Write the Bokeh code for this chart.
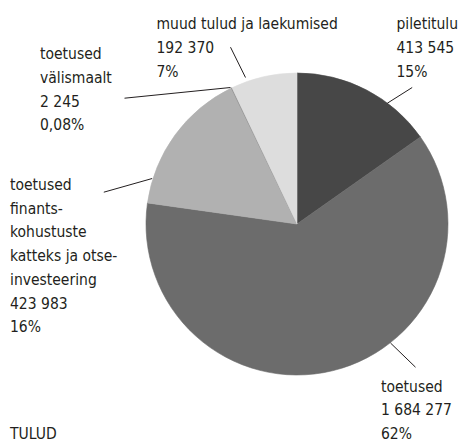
import numpy as np
from bokeh.plotting import figure
from bokeh.models import Range1d
from bokeh.embed import file_html
from bokeh.resources import INLINE
from bokeh.core.properties import value

# ---- data ----
slice_names = [
    ["piletitulu"],
    ["toetused"],
    ["toetused", "finants-", "kohustuste", "katteks ja otse-", "investeering"],
    ["toetused", "välismaalt"],
    ["muud tulud ja laekumised"],
]
slice_values = [413545, 1684277, 423983, 2245, 192370]
title_text = "TULUD"

# ---- style / layout ----
slice_colors = ["#474747", "#6c6c6c", "#b1b1b1", "#8a8a8a", "#dddddd"]
FONT = value("'DejaVu Sans Condensed', Roboto, sans-serif")
FSIZE = "15.5px"
TCOLOR = "#231f20"
LINE_STEP = 23.7
TEXT_DY = -4.5  # renderer baseline correction
PAGE_W, PAGE_H = 466, 443
pie_cx, pie_cy, pie_r = 296.5, 223.5, 151
# label anchors in page pixels: (x, first baseline)
label_pos = [(396.0, 28.3), (380.5, 390.7), (9.5, 189.0), (39.5, 58.3), (156.0, 28.3)]
# leader lines in page pixels: (x0, y0, x1, y1)
leaders = [
    (411.7, 87.0, 386.7, 102.8),
    (415.0, 366.7, 390.0, 342.5),
    (103.3, 191.7, 151.7, 178.0),
    (124.0, 97.7, 230.0, 87.0),
    (230.0, 46.7, 245.0, 77.0),
]
title_pos = (9.5, 438.3)


def Y(py):
    return PAGE_H - py


def fmt_num(v):
    return f"{v:,}".replace(",", " ")


def fmt_pct(v, total):
    pc = v / total * 100
    if pc < 1:
        return f"{pc:.2f}".replace(".", ",") + "%"
    return f"{int(round(pc))}%"


p = figure(width=PAGE_W, height=PAGE_H, x_range=Range1d(0, PAGE_W), y_range=Range1d(0, PAGE_H),
           output_backend="svg", toolbar_location=None,
           x_axis_type=None, y_axis_type=None, min_border=0)
p.outline_line_color = None
p.background_fill_color = "white"

vals = np.array(slice_values, dtype=float)
total = vals.sum()
cum = np.concatenate([[0.0], np.cumsum(vals / total)])
start = np.pi / 2 - 2 * np.pi * cum[:-1]
end = np.pi / 2 - 2 * np.pi * cum[1:]

p.wedge(x=[pie_cx] * len(vals), y=[Y(pie_cy)] * len(vals), radius=pie_r,
        start_angle=list(start), end_angle=list(end), direction="clock",
        fill_color=slice_colors, line_color=slice_colors, line_width=0.6)

# leader lines
p.segment(x0=[l[0] for l in leaders], y0=[Y(l[1]) for l in leaders],
          x1=[l[2] for l in leaders], y1=[Y(l[3]) for l in leaders],
          line_color="#231f20", line_width=1)

xs, ys, ts = [], [], []
for i, (nm, v) in enumerate(zip(slice_names, slice_values)):
    lines = list(nm) + [fmt_num(v), fmt_pct(v, total)]
    x0, b0 = label_pos[i]
    for j, t in enumerate(lines):
        xs.append(x0)
        ys.append(Y(b0 + j * LINE_STEP + TEXT_DY))
        ts.append(t)

p.text(x=xs, y=ys, text=ts, text_font=FONT, text_font_size=FSIZE,
       text_baseline="alphabetic", text_align="left", text_color=TCOLOR)

p.text(x=[title_pos[0]], y=[Y(title_pos[1] + TEXT_DY)], text=[title_text], text_font=FONT,
       text_font_size=FSIZE, text_baseline="alphabetic", text_align="left",
       text_color=TCOLOR)

open("out.html", "w").write(file_html(p, INLINE))
